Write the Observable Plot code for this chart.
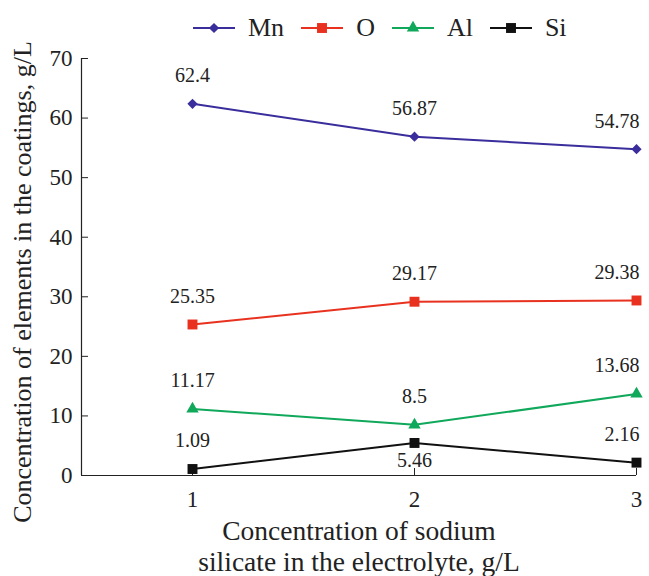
<!DOCTYPE html>
<html>
<head>
<meta charset="utf-8">
<script src="https://cdn.jsdelivr.net/npm/d3@7"></script>
<script src="https://cdn.jsdelivr.net/npm/@observablehq/plot@0.6"></script>
<style>
  body { margin: 0; background: #fff; font-family: "Liberation Serif", "Times New Roman", "DejaVu Serif", serif; }
  #legend { height: 45px; box-sizing: border-box; padding-top: 11px; padding-left: 193px; display: flex; align-items: center; font-size: 26px; color: #222; }
  .item { display: flex; align-items: center; margin-right: 17px; }
  .item svg { margin-right: 13px; }
  #chart svg, #chart svg text { font-family: "Liberation Serif", "Times New Roman", "DejaVu Serif", serif !important; }
</style>
</head>
<body>
<div id="legend"></div>
<div id="chart"></div>
<script>
// Data
const xValues = [1, 2, 3];
const seriesNames = ["Mn", "O", "Al", "Si"];
const mnValues = [62.4, 56.87, 54.78];
const oValues = [25.35, 29.17, 29.38];
const alValues = [11.17, 8.5, 13.68];
const siValues = [1.09, 5.46, 2.16];
const yTicks = [0, 10, 20, 30, 40, 50, 60, 70];
const yTitle = "Concentration of elements in the coatings, g/L";
const xTitle = "Concentration of sodium\nsilicate in the electrolyte, g/L";

// Styles
const colors = {Mn: "#3a2d9c", O: "#e8321f", Al: "#10a85a", Si: "#111111"};
const symbols = {Mn: "diamond2", O: "square", Al: "triangle", Si: "square"};
const radii = {Mn: 4.6, O: 5.6, Al: 4.6, Si: 5.6};

const valuesBySeries = {Mn: mnValues, O: oValues, Al: alValues, Si: siValues};
const rows = seriesNames.flatMap(s => xValues.map((x, i) => ({series: s, x, y: valuesBySeries[s][i]})));
const below = d => d.series === "Si" && d.x === 2;
const last = d => d.x === xValues[xValues.length - 1];

// Legend
const legend = document.getElementById("legend");
for (const s of seriesNames) {
  const item = document.createElement("div");
  item.className = "item";
  const svg = d3.create("svg").attr("width", 42).attr("height", 16);
  svg.append("line").attr("x1", 0).attr("x2", 42).attr("y1", 8).attr("y2", 8)
    .attr("stroke", colors[s]).attr("stroke-width", 2);
  const sym = {diamond2: d3.symbolDiamond2, square: d3.symbolSquare, triangle: d3.symbolTriangle}[symbols[s]];
  svg.append("path").attr("transform", "translate(21,8)")
    .attr("d", d3.symbol(sym, Math.PI * radii[s] * radii[s])())
    .attr("fill", colors[s]);
  item.appendChild(svg.node());
  const span = document.createElement("span");
  span.textContent = s;
  item.appendChild(span);
  legend.appendChild(item);
}

const marks = [
  Plot.ruleX([0.5], {stroke: "#222", strokeWidth: 1.2}),
  Plot.ruleY([0], {stroke: "#222", strokeWidth: 1.2}),
  Plot.axisY({ticks: yTicks, tickSize: -7, tickPadding: 16, label: null, fontSize: 23, stroke: "#222"}),
  Plot.axisX({ticks: xValues, tickSize: -7, tickPadding: 22, label: null, fontSize: 23, tickFormat: d => String(d)}),
];
for (const s of seriesNames) {
  const data = rows.filter(d => d.series === s);
  marks.push(Plot.line(data, {x: "x", y: "y", stroke: colors[s], strokeWidth: 2}));
  marks.push(Plot.dot(data, {x: "x", y: "y", symbol: () => symbols[s], r: radii[s], fill: colors[s], stroke: "none"}));
}
marks.push(
  Plot.text(rows.filter(d => !below(d) && !last(d)), {x: "x", y: "y", text: d => String(d.y), dy: -28, fontSize: 20, fill: "#222"}),
  Plot.text(rows.filter(d => !below(d) && last(d)), {x: "x", y: "y", text: d => String(d.y), dy: -28, dx: 3, textAnchor: "end", fontSize: 20, fill: "#222"}),
  Plot.text(rows.filter(d => below(d)), {x: "x", y: "y", text: d => String(d.y), dy: 18, fontSize: 20, fill: "#222"}),
  Plot.text([yTitle], {frameAnchor: "left", textAnchor: "middle", lineAnchor: "middle", rotate: -90, dx: -59, dy: 15, fontSize: 26, fill: "#222"}),
  Plot.text([xTitle], {frameAnchor: "bottom", lineAnchor: "top", dy: 42, fontSize: 27.5, lineHeight: 1.13, fill: "#222"})
);

const chart = Plot.plot({
  width: 649,
  height: 531,
  marginLeft: 81,
  marginRight: 13,
  marginTop: 13,
  marginBottom: 101,
  style: {background: "#fff", color: "#222", overflow: "visible"},
  x: {domain: [0.5, 3]},
  y: {domain: [0, 70]},
  symbol: {type: "identity"},
  marks
});
document.getElementById("chart").appendChild(chart);
</script>
</body>
</html>
